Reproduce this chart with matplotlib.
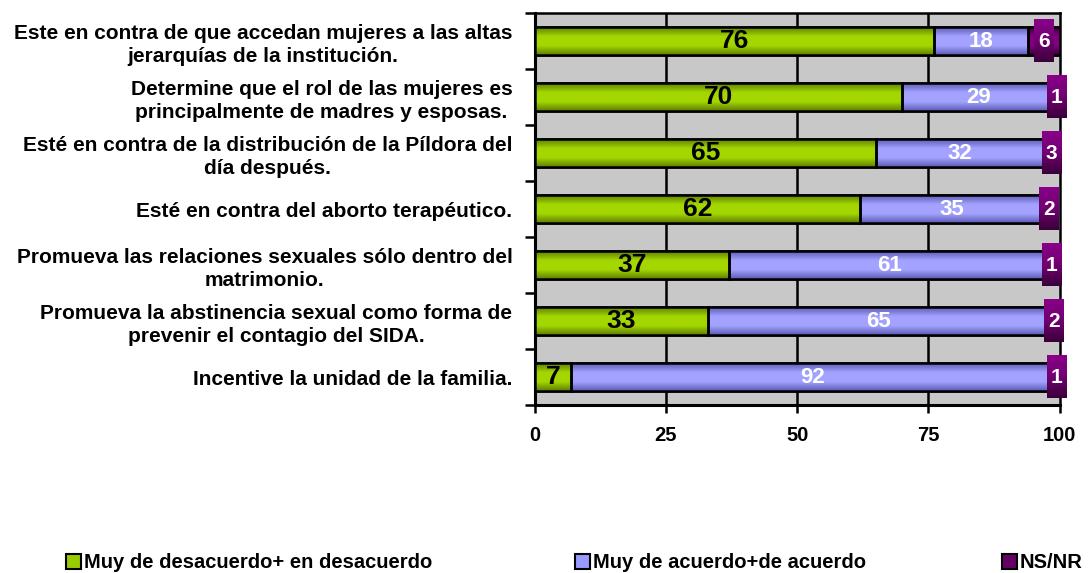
import matplotlib
matplotlib.use("Agg")
import matplotlib.pyplot as plt
import numpy as np
from matplotlib.patches import Patch, Rectangle
from matplotlib.colors import LinearSegmentedColormap

plt.rcParams['font.family'] = ['Liberation Sans', 'DejaVu Sans']
plt.rcParams['font.weight'] = 'bold'

# Survey items, top to bottom
categories = [
    "Este en contra de que accedan mujeres a las altas\njerarquías de la institución.",
    "Determine que el rol de las mujeres es\nprincipalmente de madres y esposas.",
    "Esté en contra de la distribución de la Píldora del\ndía después.",
    "Esté en contra del aborto terapéutico.",
    "Promueva las relaciones sexuales sólo dentro del\nmatrimonio.",
    "Promueva la abstinencia sexual como forma de\nprevenir el contagio del SIDA.",
    "Incentive la unidad de la familia.",
]
desacuerdo = [76, 70, 65, 62, 37, 33, 7]
acuerdo = [18, 29, 32, 35, 61, 65, 92]
ns_nr = [6, 1, 3, 2, 1, 2, 1]

series_names = ["Muy de desacuerdo+ en desacuerdo", "Muy de acuerdo+de acuerdo", "NS/NR"]
colors = ["#99CC00", "#9999FF", "#660066"]
# darker tone used at the top/bottom of each bar for the shaded look
edge_tones = ["#5F8000", "#5C5CB8", "#3A003A"]
mid_tones = ["#A4D600", "#A3A3FF", "#800080"]
x_ticks = [0, 25, 50, 75, 100]


def shade(ax, patch, dark, light):
    """Fill a bar with a vertical dark-light-dark gradient."""
    cmap = LinearSegmentedColormap.from_list("g", [dark, light, light, dark])
    x0, y0 = patch.get_x(), patch.get_y()
    w, h = patch.get_width(), patch.get_height()
    grad = np.linspace(0, 1, 64).reshape(-1, 1)
    im = ax.imshow(grad, cmap=cmap, aspect="auto", extent=(x0, x0 + w, y0, y0 + h),
                   origin="lower", zorder=3.5, interpolation="bilinear")
    im.set_clip_path(patch)


fig = plt.figure(figsize=(10.89, 5.73), dpi=100)
ax = fig.add_axes([0.491, 0.293, 0.482, 0.684])
ax.set_facecolor("#C8C8C8")

n = len(categories)
y = np.arange(n)[::-1]
bar_h = 0.5

left = np.zeros(n)
segments = []
for k, (vals, col) in enumerate(zip([desacuerdo, acuerdo, ns_nr], colors)):
    vals = np.array(vals, dtype=float)
    bars = ax.barh(y, vals, left=left, height=bar_h, color=col, edgecolor="black",
                   linewidth=1.8, zorder=3)
    for b in bars:
        shade(ax, b, edge_tones[k], mid_tones[k])
        # redraw outline above the gradient
        ax.add_patch(Rectangle((b.get_x(), b.get_y()), b.get_width(), b.get_height(),
                               fill=False, edgecolor="black", linewidth=1.8, zorder=4))
    segments.append((left.copy(), vals))
    left += vals

box_cmap = LinearSegmentedColormap.from_list("p", ["#8A008A", "#700070", "#3A003A"])

# Value labels on each segment
for i in range(n):
    l0, v0 = segments[0][0][i], segments[0][1][i]
    ax.text(l0 + v0 / 2, y[i], f"{int(v0)}", ha="center", va="center",
            fontsize=19, fontweight="bold", color="black", zorder=6)
    l1, v1 = segments[1][0][i], segments[1][1][i]
    ax.text(l1 + v1 / 2, y[i], f"{int(v1)}", ha="center", va="center",
            fontsize=16, fontweight="bold", color="white", zorder=6)
    l2, v2 = segments[2][0][i], segments[2][1][i]
    cx = l2 + v2 / 2
    box = Rectangle((cx - 1.9, y[i] - 0.38), 3.8, 0.76, facecolor=colors[2],
                    edgecolor="none", zorder=6, clip_on=False)
    ax.add_patch(box)
    ax.imshow(np.linspace(1, 0, 64).reshape(-1, 1), cmap=box_cmap, aspect="auto",
              extent=(cx - 1.9, cx + 1.9, y[i] - 0.38, y[i] + 0.38),
              origin="lower", zorder=6.5, clip_on=False)
    ax.text(cx, y[i], f"{int(v2)}", ha="center", va="center",
            fontsize=15, fontweight="bold", color="white", zorder=7)

ax.set_xlim(0, 100)
ax.set_ylim(-0.5, n - 0.5)

# vertical gridlines
for gx in x_ticks[1:-1]:
    ax.axvline(gx, color="black", linewidth=1.8, zorder=1)

ax.set_xticks(x_ticks)
ax.set_xticklabels([str(t) for t in x_ticks], fontsize=14.5, fontweight="bold")
ax.tick_params(axis="x", length=6, width=1.8, pad=9)

# category boundaries as major ticks, labels on minor ticks
ax.set_yticks(np.arange(n + 1) - 0.5)
ax.set_yticklabels([])
ax.tick_params(axis="y", which="major", length=7, width=1.8)
ax.set_yticks(y, minor=True)
ax.set_yticklabels(categories, minor=True, fontsize=15, fontweight="bold",
                   multialignment="center", linespacing=1.25)
ax.tick_params(axis="y", which="minor", length=0, pad=16)

for side in ["left", "bottom"]:
    ax.spines[side].set_linewidth(2.2)
for side in ["top", "right"]:
    ax.spines[side].set_linewidth(1.8)

# legend entries laid out separately along the bottom
legend_x = [0.046, 0.513, 0.905]
for name, col, lx in zip(series_names, colors, legend_x):
    h = Patch(facecolor=col, edgecolor="black", linewidth=1.5)
    fig.legend([h], [name], loc="lower left", bbox_to_anchor=(lx, -0.027),
               frameon=False, prop={"size": 14.5, "weight": "bold"},
               handlelength=0.75, handleheight=0.75, handletextpad=0.15,
               borderpad=0.3)

fig.savefig("out.png", dpi=100)
